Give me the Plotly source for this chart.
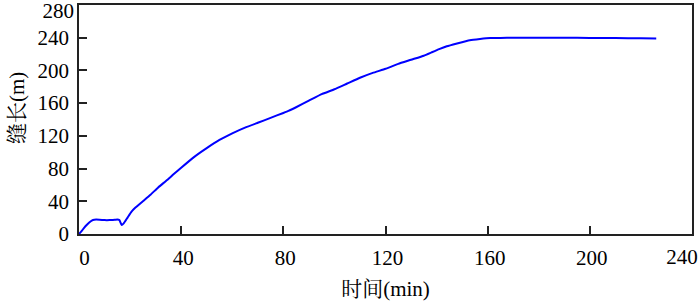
import plotly.graph_objects as go

# time (min)
t = [0, 1, 2, 3, 4, 5, 6, 8, 10, 12, 14, 15, 15.8, 16.7, 17.5, 19, 20.5, 22,
     25, 28, 31, 34.5, 37, 40, 45, 50, 55, 60, 65, 70, 75, 80, 82, 85, 90, 95,
     100, 105, 110, 115, 120, 125, 130, 135, 138, 141, 144, 148, 153, 157, 161,
     165, 170, 180, 190, 200, 210, 220, 226]
# fracture length (m)
y = [0, 3.5, 7.5, 11, 14, 16.5, 17.5, 17.5, 17, 17, 17.3, 17.8, 17, 11, 13, 20, 27, 32,
     40, 48, 57, 66, 73, 81, 94, 105, 115, 123, 130, 136, 142, 148, 150.5, 155, 163, 171,
     177, 184, 191, 197, 202, 208, 213, 218, 222, 226, 229.5, 233, 237, 238.5, 239.6,
     239.8, 240, 240, 240, 239.8, 239.5, 239.2, 239]

x_ticks = [0, 40, 80, 120, 160, 200, 240]
x_ticktext = ["\u20040", "40", "80", "120", "160", "200", ""]
x_end_tick = [240]
y_ticks = [0, 40, 80, 120, 160, 200, 240, 280]
y_ticktext = ["0", "40", "80", "120", "160", "200", "240", ""]
y_top_tick = [280]

fig = go.Figure()
fig.add_trace(go.Scatter(x=t, y=y, mode="lines",
                         line=dict(color="#0000ff", width=2, shape="spline", smoothing=0.4),
                         showlegend=False, hoverinfo="skip"))
# empty traces so the overlay axes carrying the end labels are drawn
fig.add_trace(go.Scatter(x=[], y=[], yaxis="y2", showlegend=False, hoverinfo="skip"))
fig.add_trace(go.Scatter(x=[], y=[], xaxis="x2", showlegend=False, hoverinfo="skip"))

font_family = "Liberation Serif, 'Noto Serif CJK SC', 'Noto Sans CJK SC', serif"
tickfont = dict(family=font_family, size=21, color="black")
axis_common = dict(showgrid=False, zeroline=False, showline=True, linecolor="#222", linewidth=1.5,
                   mirror=True, ticks="inside", ticklen=8, tickwidth=1.5, tickcolor="#222",
                   automargin=False, ticklabeloverflow="allow", tickfont=tickfont)
overlay_common = dict(showgrid=False, zeroline=False, showline=False, ticks="",
                      automargin=False, ticklabeloverflow="allow", tickfont=tickfont)

fig.update_layout(
    width=700, height=305,
    margin=dict(l=79, r=8, t=5, b=71),
    paper_bgcolor="white", plot_bgcolor="white",
    font=dict(family=font_family, size=21, color="black"),
    xaxis=dict(range=[0, 240.0001], tickvals=x_ticks, ticktext=x_ticktext,
               ticklabelstandoff=4, ticklabelshift=2,
               title=dict(text="时间(min)", standoff=12, font=dict(family=font_family, size=21)),
               **axis_common),
    xaxis2=dict(overlaying="x", side="bottom", range=[0, 240.0001], tickvals=x_end_tick,
                ticklabelstandoff=8, ticklabelshift=-10, **overlay_common),
    yaxis=dict(range=[0, 280.0001], tickvals=y_ticks, ticktext=y_ticktext,
               ticklabelstandoff=4, **axis_common),
    yaxis2=dict(overlaying="y", side="left", range=[0, 280.0001], tickvals=y_top_tick,
                ticklabelstandoff=4, ticklabelshift=6, **overlay_common),
    annotations=[dict(text="缝长(m)", textangle=-90, xref="paper", yref="paper",
                      x=0, y=0.55, xanchor="center", yanchor="middle", xshift=-62,
                      showarrow=False,
                      font=dict(family=font_family, size=21, color="black"))],
)

fig.write_html("out.html", post_script="document.body.style.margin='0px';",
               config={"displayModeBar": False})
